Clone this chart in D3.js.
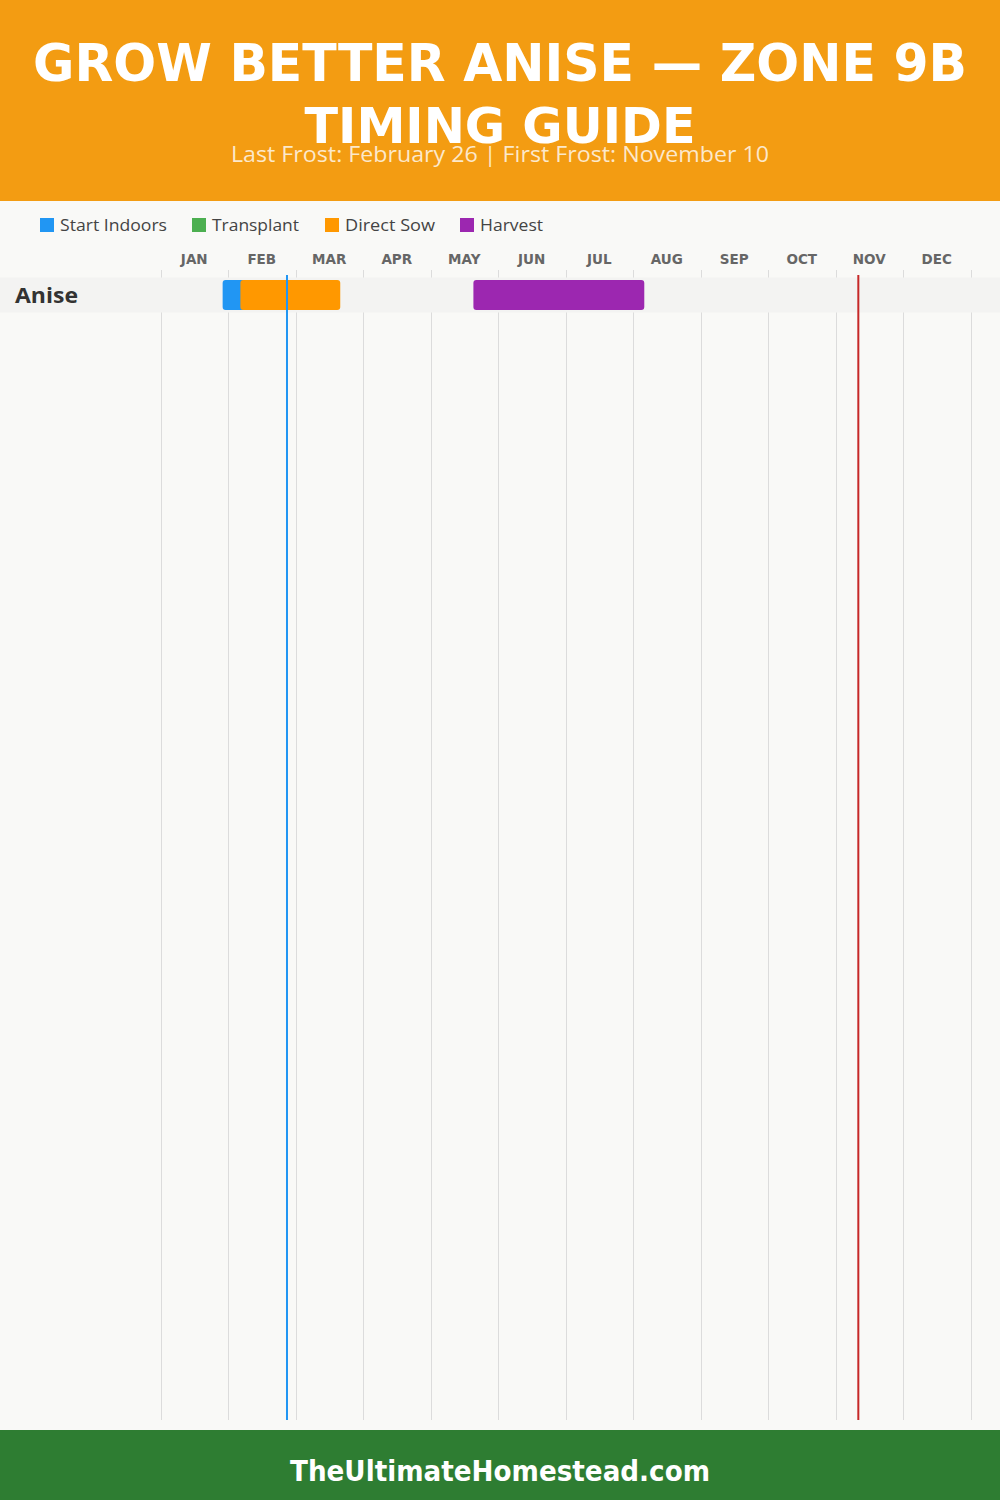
<!DOCTYPE html>
<html>
<head>
<meta charset="utf-8">
<script src="https://cdn.jsdelivr.net/npm/d3@7"></script>
<style>
  html, body { margin: 0; padding: 0; background: #f9f9f7; }
  svg { display: block; }
</style>
</head>
<body>
<script>
// ---- data ----
const title1 = "GROW BETTER ANISE — ZONE 9B";
const title2 = "TIMING GUIDE";
const subtitle = "Last Frost: February 26 | First Frost: November 10";
const footerText = "TheUltimateHomestead.com";
const months = ["JAN","FEB","MAR","APR","MAY","JUN","JUL","AUG","SEP","OCT","NOV","DEC"];
const crops = ["Anise"];
const legendLabels = ["Start Indoors", "Transplant", "Direct Sow", "Harvest"];
const legendColors = ["#2196F3", "#4CAF50", "#FF9800", "#9C27B0"];
// periods: [crop, activity, start(MM-DD), end(MM-DD)]
const periods = [
  ["Anise", "Start Indoors", "01-28", "02-26"],
  ["Anise", "Direct Sow", "02-05", "03-22"],
  ["Anise", "Harvest", "05-21", "08-06"]
];
const lastFrost = "02-26";
const firstFrost = "11-10";

// ---- helpers ----
const cumDays = [0,31,59,90,120,151,181,212,243,273,304,334];
function doy(s) { const [m, d] = s.split("-").map(Number); return cumDays[m - 1] + d; }

const W = 1000, H = 1500;
const svg = d3.select("body").append("svg").attr("width", W).attr("height", H);

svg.append("rect").attr("width", W).attr("height", H).attr("fill", "#f9f9f7");

// header
svg.append("rect").attr("x", 0).attr("y", 0).attr("width", W).attr("height", 201).attr("fill", "#F39C12");
const titleFont = "'DejaVu Sans', sans-serif";
svg.append("text").attr("x", 500).attr("y", 81).attr("text-anchor", "middle")
  .attr("font-family", titleFont).attr("font-weight", 900).attr("font-size", 51)
  .attr("fill", "#fff").attr("textLength", 934).attr("lengthAdjust", "spacingAndGlyphs")
  .text(title1);
svg.append("text").attr("x", 500).attr("y", 143).attr("text-anchor", "middle")
  .attr("font-family", titleFont).attr("font-weight", 900).attr("font-size", 50)
  .attr("fill", "#fff").attr("textLength", 391).attr("lengthAdjust", "spacingAndGlyphs")
  .text(title2);
svg.append("text").attr("x", 500).attr("y", 162).attr("text-anchor", "middle")
  .attr("font-family", "'Open Sans', sans-serif").attr("font-size", 21)
  .attr("fill", "rgba(255,255,255,0.78)").attr("textLength", 538).attr("lengthAdjust", "spacingAndGlyphs")
  .text(subtitle);

// scales
const x = d3.scaleLinear().domain([0, 365]).range([160.5, 970.5]);
const xm = d3.scaleBand().domain(months).range([160.5, 970.5]);
const y = d3.scaleBand().domain(crops).range([277.5, 277.5 + 35 * crops.length]);
const color = d3.scaleOrdinal().domain(legendLabels).range(legendColors);

// legend
const legendX = [40, 192, 325, 460];
const legendW = [107, 87, 90, 63];
const lg = svg.append("g").selectAll("g").data(legendLabels).join("g")
  .attr("transform", (d, i) => `translate(${legendX[i]},218)`);
lg.append("rect").attr("width", 14).attr("height", 14).attr("fill", d => color(d));
lg.append("text").attr("x", 20).attr("y", 12.5)
  .attr("font-family", "'Open Sans', sans-serif").attr("font-size", 16.5).attr("fill", "#444")
  .attr("textLength", (d, i) => legendW[i]).attr("lengthAdjust", "spacingAndGlyphs")
  .text(d => d);

// month labels
svg.append("g").selectAll("text").data(months).join("text")
  .attr("x", d => xm(d) + xm.bandwidth() / 2).attr("y", 264).attr("text-anchor", "middle")
  .attr("font-family", "'DejaVu Sans', sans-serif").attr("font-weight", "bold").attr("font-size", 13.5)
  .attr("fill", "#666").text(d => d);

// grid lines
const gridX = months.map(m => xm(m)).concat([970.5]);
svg.append("g").selectAll("line").data(gridX).join("line")
  .attr("x1", d => Math.round(d) + 0.5).attr("x2", d => Math.round(d) + 0.5)
  .attr("y1", 270).attr("y2", 1420).attr("stroke", "#dcdcdc").attr("stroke-width", 1);

// row bands
svg.append("g").selectAll("rect").data(crops).join("rect")
  .attr("x", 0).attr("width", W).attr("y", d => y(d)).attr("height", y.bandwidth())
  .attr("fill", "#f3f3f2");
svg.append("g").selectAll("text").data(crops).join("text")
  .attr("x", 15).attr("y", d => y(d) + y.bandwidth() / 2 + 8)
  .attr("font-family", "'Open Sans', sans-serif").attr("font-weight", "bold").attr("font-size", 22)
  .attr("fill", "#333").attr("textLength", 63).attr("lengthAdjust", "spacingAndGlyphs").text(d => d);

// bars
svg.append("g").selectAll("rect").data(periods).join("rect")
  .attr("x", d => x(doy(d[2]))).attr("width", d => x(doy(d[3])) - x(doy(d[2])))
  .attr("y", d => y(d[0]) + 2.5).attr("height", y.bandwidth() - 5)
  .attr("rx", 3).attr("fill", d => color(d[1]));

// frost lines
svg.append("line").attr("x1", x(doy(lastFrost))).attr("x2", x(doy(lastFrost)))
  .attr("y1", 275).attr("y2", 1420).attr("stroke", "#2196F3").attr("stroke-width", 2);
svg.append("line").attr("x1", x(doy(firstFrost)) + 1).attr("x2", x(doy(firstFrost)) + 1)
  .attr("y1", 275).attr("y2", 1420).attr("stroke", "#C62828").attr("stroke-width", 2);

// footer
svg.append("rect").attr("x", 0).attr("y", 1430).attr("width", W).attr("height", 70).attr("fill", "#2E7D32");
svg.append("text").attr("x", 500).attr("y", 1481).attr("text-anchor", "middle")
  .attr("font-family", "'DejaVu Sans', sans-serif").attr("font-weight", "bold").attr("font-size", 28)
  .attr("fill", "#fff").attr("textLength", 420).attr("lengthAdjust", "spacingAndGlyphs")
  .text(footerText);
</script>
</body>
</html>
